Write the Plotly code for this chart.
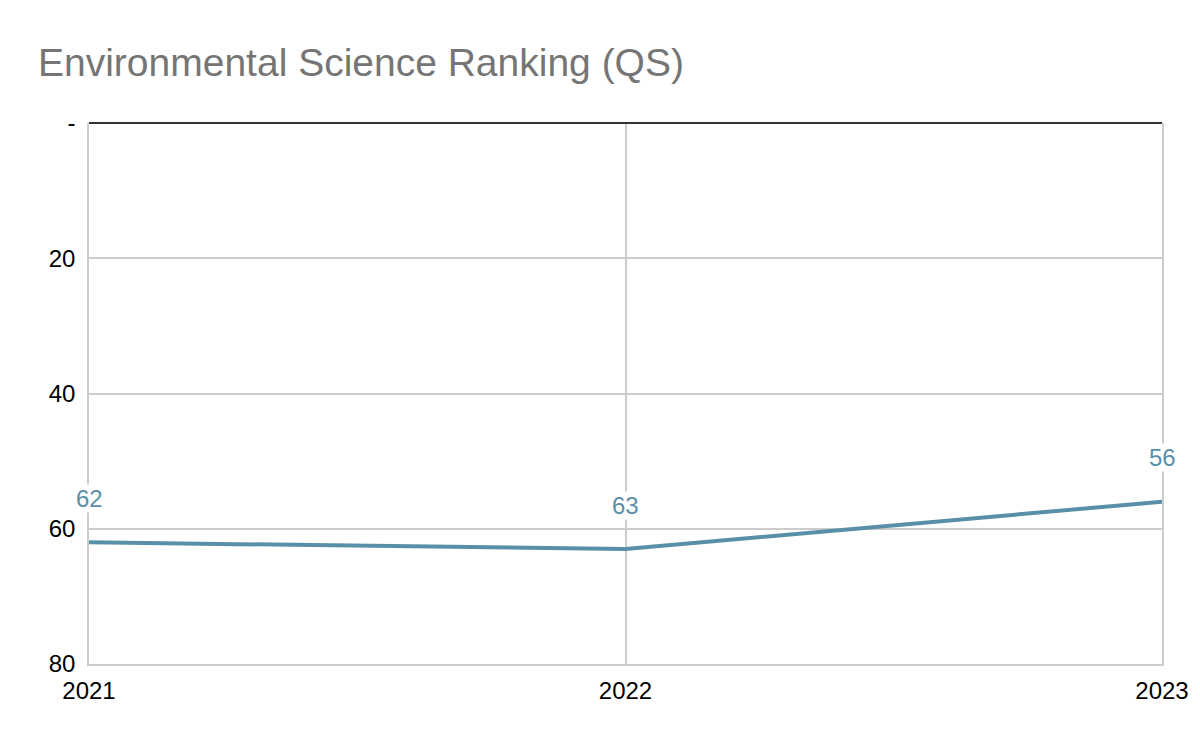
import plotly.graph_objects as go

years = [2021, 2022, 2023]
ranks = [62, 63, 56]
y_tickvals = [0, 20, 40, 60, 80]
y_ticktext = ["-", "20", "40", "60", "80"]

line_color = "#5a8fa9"
grid_color = "#cccccc"

fig = go.Figure()
fig.add_trace(go.Scatter(
    x=years, y=ranks, mode="lines",
    line=dict(color=line_color, width=4),
    hoverinfo="x+y", showlegend=False,
))

for x, y in zip(years, ranks):
    fig.add_annotation(
        x=x, y=y, text=str(y), showarrow=False,
        yshift=44, yanchor="middle", xanchor="center",
        font=dict(family="Liberation Sans, Arial", size=24, color=line_color),
        bgcolor="white", borderpad=0,
    )

fig.update_layout(
    width=1200, height=742,
    paper_bgcolor="white", plot_bgcolor="white",
    margin=dict(l=89, r=38, t=123, b=78),
    title=dict(
        text="Environmental Science Ranking (QS)",
        x=38 / 1200, xanchor="left", y=1 - 62 / 742, yanchor="middle",
        font=dict(family="Liberation Sans, Arial", size=39, color="#757575"),
    ),
    font=dict(family="Liberation Sans, Arial", size=24, color="#000000"),
)

fig.update_xaxes(
    range=[2021, 2023], tickvals=years, ticktext=[str(v) for v in years],
    showgrid=True, gridcolor=grid_color, gridwidth=1.5,
    zeroline=False, showline=True, linecolor=grid_color, linewidth=1.5,
    mirror=False,
    tickfont=dict(size=24, color="#000000"), ticklabelstandoff=4,
)
fig.update_yaxes(
    range=[80, 0], tickvals=y_tickvals, ticktext=y_ticktext,
    showgrid=True, gridcolor=grid_color, gridwidth=1.5,
    zeroline=True, zerolinecolor="#333333", zerolinewidth=2,
    showline=True, linecolor=grid_color, linewidth=1.5, mirror=True,
    tickfont=dict(size=24, color="#000000"), ticklabelstandoff=7,
)

fig.write_html("out.html")
